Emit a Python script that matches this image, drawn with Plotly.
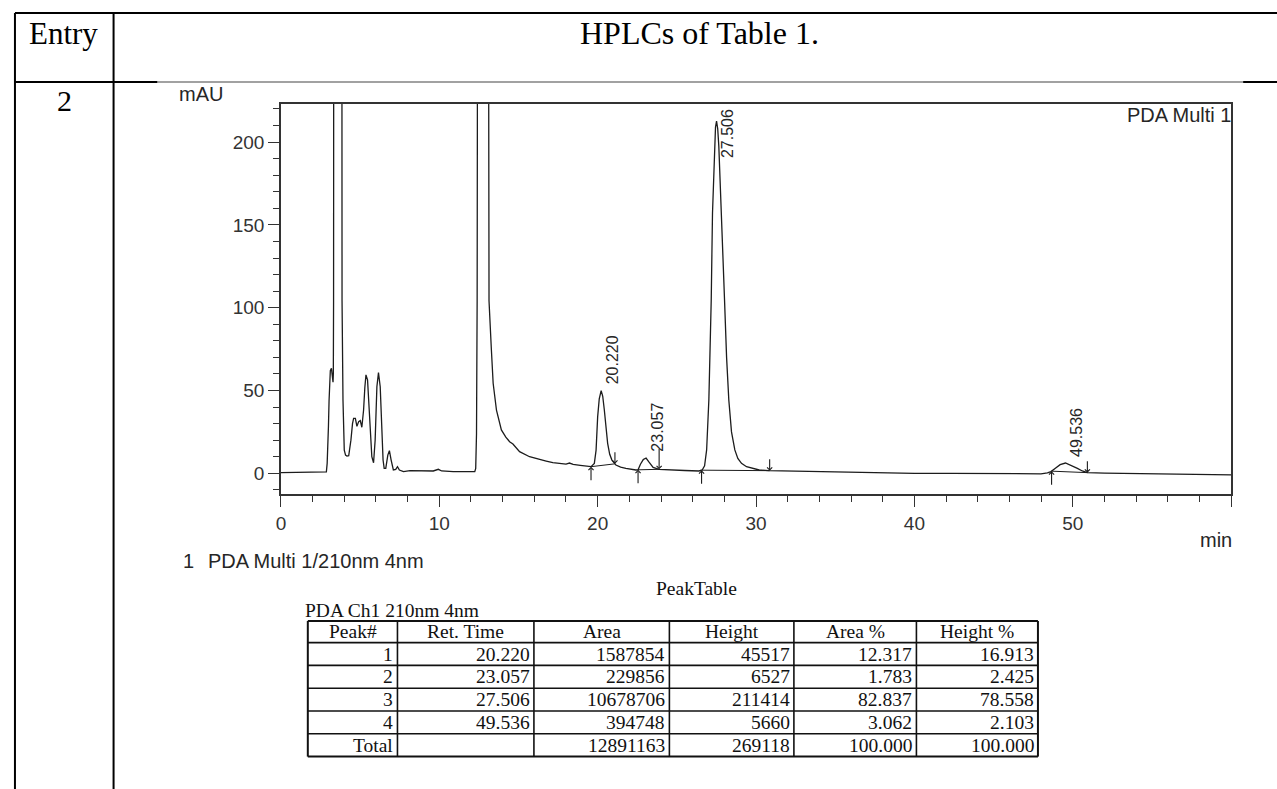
import numpy as np
import plotly.graph_objects as go

# ---- chromatogram trace (PDA Multi 1, 210 nm) ----
time_min = [
    0.00, 1.50, 2.70, 2.87, 2.92, 2.96, 3.00, 3.04, 3.09, 3.12, 3.19, 3.25, 3.29, 3.31,
    3.325, 3.335, 3.60, 3.85, 3.86, 3.92, 3.96, 4.00, 4.08, 4.17, 4.28, 4.36, 4.42, 4.52,
    4.59, 4.70, 4.80, 4.91, 5.01, 5.11, 5.22, 5.30, 5.37, 5.47, 5.53, 5.60, 5.74, 5.85,
    5.95, 6.06, 6.16, 6.27, 6.37, 6.45, 6.52, 6.62, 6.75, 6.85, 6.96, 7.10, 7.25, 7.36,
    7.48, 7.74, 8.15, 8.78, 9.62, 9.94, 10.15, 10.88, 12.14, 12.24, 12.30, 12.35, 12.39,
    12.415, 12.75, 13.07, 13.14, 13.29, 13.40, 13.61, 13.92, 14.20, 14.44, 14.65, 15.07,
    15.70, 16.20, 16.75, 17.17, 17.60, 18.00, 18.22, 18.45, 18.90, 19.30, 19.58, 19.79,
    19.90, 20.00, 20.10, 20.22, 20.32, 20.42, 20.52, 20.63, 20.76, 20.90, 21.15, 21.45,
    21.78, 22.10, 22.41, 22.55, 22.70, 22.88, 23.057, 23.22, 23.38, 23.50, 23.88, 24.50,
    25.50, 26.39, 26.60, 26.75, 26.88, 27.02, 27.10, 27.17, 27.25, 27.37, 27.44, 27.506,
    27.58, 27.65, 27.79, 27.90, 28.01, 28.14, 28.28, 28.45, 28.66, 28.85, 29.08, 29.40,
    29.75, 30.20, 30.80, 32.00, 33.94, 36.00, 38.13, 40.00, 42.33, 45.47, 47.99, 48.40,
    48.62, 48.90, 49.20, 49.536, 49.85, 50.29, 50.60, 50.92, 52.00, 54.00, 56.00, 58.00,
    60.00,
]
absorbance_mau = [
    0.4, 0.4, 0.4, 0.8, 6, 14, 28, 44, 56, 62, 63.4, 58, 55, 60,
    104, 300, 1800, 300, 104, 44, 25, 14, 11, 10.4, 10.6, 15, 20, 30,
    33.2, 33.2, 28.4, 31.2, 31.8, 27.8, 38.2, 52, 59.4, 56.4, 45, 28.2, 10, 6.4,
    20, 52.3, 60.8, 52.3, 20.1, 8, 3.0, 3.0, 11, 13.7, 8, 2.0, 2.4, 4.0,
    2.0, 1.0, 1.6, 1.4, 1.4, 2.4, 1.4, 1.0, 1.0, 1.0, 3, 24, 104,
    300, 2500, 300, 104, 74.5, 54.4, 38.2, 26.2, 21.8, 19.1, 17.7, 13.1,
    10.0, 8.6, 7.4, 6.4, 5.8, 5.6, 6.2, 5.4, 4.8, 4.3, 4.0, 6.0,
    14, 34.2, 45, 49.9, 46.5, 38.2, 27, 18.1, 11.5, 8.0, 5.0, 3.8,
    3.0, 2.4, 2.0, 2.1, 5.5, 8.3, 9.2, 7.0, 4.6, 3.6, 2.4, 2.0,
    1.7, 1.4, 2.0, 4.5, 14.1, 44.3, 75, 104.7, 157, 197.4, 209, 212.7,
    208, 197.4, 157, 130, 104.7, 70, 44.3, 25, 14.1, 9.0, 6.0, 4.0,
    3.0, 2.0, 1.6, 1.4, 1.0, 0.5, 0.1, 0.0, 0.0, -0.3, -0.3, 0.2,
    1.0, 3.0, 5.2, 6.2, 5.0, 3.0, 1.4, 0.4, 0.1, -0.2, -0.4, -0.7,
    -1.0,
]

# ---- integrated peaks ----
ret_times = [20.220, 23.057, 27.506, 49.536]
apex_mau = [49.9, 9.2, 212.7, 6.2]
peak_start = [19.58, 22.55, 26.56, 48.66]
peak_end = [21.09, 23.88, 30.86, 50.92]
end_arrow_px = [13, 22, 13, 13]

# ---- peak table ----
peak_ids = ["1", "2", "3", "4"]
areas = [1587854, 229856, 10678706, 394748]
heights = [45517, 6527, 211414, 5660]
area_pct = [12.317, 1.783, 82.837, 3.062]
height_pct = [16.913, 2.425, 78.558, 2.103]
total_area = 12891163
total_height = 269118
total_pct = 100.000
table_headers = ["Peak#", "Ret. Time", "Area", "Height", "Area %", "Height %"]

y_ticks = [0, 50, 100, 150, 200]
x_ticks = [0, 10, 20, 30, 40, 50, 60]
x_ticktext = ["0", "10", "20", "30", "40", "50", ""]

W, H = 1277, 789
X_RANGE = [0, 60]
Y_RANGE = [-12.5, 223]
PLOT_L, PLOT_R, PLOT_T, PLOT_B = 277, 1231, 104, 494

# peak table geometry (pixels)
TBL_LEFT, TBL_TOP = 304, 621
COL_W = [90, 137, 136, 125, 123, 122]
HEAD_H, ROW_H = 21.6, 22.8


def px(x):
    return x / W


def py(y):
    return 1 - y / H


SANS = "Liberation Sans"
SERIF = "Liberation Serif"
INK = "#262626"
TINK = "#111111"

fig = go.Figure()

fig.add_trace(go.Scatter(
    x=time_min, y=absorbance_mau, mode="lines",
    line=dict(color="#1c1c1c", width=1.3),
    hoverinfo="skip", showlegend=False,
))

# integration baselines drawn under each peak
bx, by = [], []
for s, e in zip(peak_start, peak_end):
    bx += [s, e, None]
    by += [float(np.interp(s, time_min, absorbance_mau)),
           float(np.interp(e, time_min, absorbance_mau)), None]
fig.add_trace(go.Scatter(
    x=bx, y=by, mode="lines", line=dict(color="#1c1c1c", width=1),
    hoverinfo="skip", showlegend=False,
))

axis_common = dict(
    showline=True, mirror=True, linecolor="#333", linewidth=1.5,
    ticks="outside", ticklen=11, tickwidth=1.4, tickcolor="#333",
    showgrid=False, zeroline=False,
    tickfont=dict(family=SANS, size=19, color="#333"),
)

fig.update_layout(
    width=W, height=H,
    margin=dict(l=0, r=0, t=0, b=0),
    paper_bgcolor="white", plot_bgcolor="white",
    xaxis=dict(
        domain=[px(PLOT_L), px(PLOT_R)], range=X_RANGE,
        tickmode="array", tickvals=x_ticks, ticktext=x_ticktext,
        minor=dict(tickmode="linear", tick0=0, dtick=2, ticks="outside",
                   ticklen=6, tickwidth=1.3, tickcolor="#333"),
        **axis_common,
    ),
    yaxis=dict(
        domain=[py(PLOT_B), py(PLOT_T)], range=Y_RANGE,
        tickmode="array", tickvals=y_ticks,
        minor=dict(tickmode="linear", tick0=0, dtick=10, ticks="outside",
                   ticklen=6, tickwidth=1.3, tickcolor="#333"),
        **axis_common,
    ),
)

ann = []
shapes = []

# retention-time labels above each apex
unit_px = (PLOT_B - PLOT_T) / (Y_RANGE[1] - Y_RANGE[0])
label_len_px = 54
for rt, ap in zip(ret_times, apex_mau):
    label = dict(x=rt, y=ap, xref="x", yref="y", text=f"{rt:.3f}",
                 textangle=-90, showarrow=False, xanchor="center",
                 yanchor="bottom", xshift=11, yshift=4,
                 font=dict(family=SANS, size=16, color=INK))
    if (Y_RANGE[1] - ap) * unit_px < label_len_px + 8:
        label.update(y=Y_RANGE[1], yanchor="top", yshift=-3)
    ann.append(label)

# peak start (up) / end (down) markers
for s, e, elen in zip(peak_start, peak_end, end_arrow_px):
    ys = float(np.interp(s, time_min, absorbance_mau))
    ye = float(np.interp(e, time_min, absorbance_mau))
    ann.append(dict(x=s, y=ys, xref="x", yref="y", ax=0, ay=15, text="",
                    showarrow=True, arrowhead=4, arrowsize=0.9, arrowwidth=1.1,
                    arrowcolor="#1c1c1c"))
    ann.append(dict(x=e, y=ye, xref="x", yref="y", ax=0, ay=-elen, text="",
                    showarrow=True, arrowhead=4, arrowsize=0.9, arrowwidth=1.1,
                    arrowcolor="#1c1c1c"))


def text_at(x, y, s, size, family, xanchor="left", color=INK):
    return dict(x=px(x), y=py(y), xref="paper", yref="paper", text=s,
                showarrow=False, xanchor=xanchor, yanchor="middle",
                borderpad=0,
                font=dict(family=family, size=size, color=color))


def rule(x0, y0, x1, y1, width=2, color="black"):
    return dict(type="line", xref="paper", yref="paper",
                x0=px(x0), y0=py(y0), x1=px(x1), y1=py(y1),
                line=dict(color=color, width=width), layer="above")


ann += [
    text_at(1232, 115, "PDA Multi 1", 20, SANS, "right"),
    text_at(174, 94, "mAU", 20, SANS, "left"),
    text_at(1233, 540, "min", 20, SANS, "right"),
    text_at(178, 561, "1", 20, SANS, "left"),
    text_at(203, 561, "PDA Multi 1/210nm 4nm", 20, SANS, "left"),
    text_at(694, 588, "PeakTable", 19.5, SERIF, "center", TINK),
    text_at(300, 610, "PDA Ch1 210nm 4nm", 19.5, SERIF, "left", TINK),
    text_at(58.5, 33, "Entry", 31, SERIF, "center", "black"),
    text_at(697, 33, "HPLCs of Table 1.", 32, SERIF, "center", "black"),
    text_at(60, 101, "2", 30, SERIF, "center", "black"),
]

# peak table: grid and cell text
rows = [table_headers]
for i in range(len(peak_ids)):
    rows.append([peak_ids[i], f"{ret_times[i]:.3f}", f"{areas[i]:d}",
                 f"{heights[i]:d}", f"{area_pct[i]:.3f}", f"{height_pct[i]:.3f}"])
rows.append(["Total", "", f"{total_area:d}", f"{total_height:d}",
             f"{total_pct:.3f}", f"{total_pct:.3f}"])

col_edges = [TBL_LEFT]
for w in COL_W:
    col_edges.append(col_edges[-1] + w)
row_edges = [TBL_TOP, TBL_TOP + HEAD_H]
for _ in rows[1:]:
    row_edges.append(row_edges[-1] + ROW_H)

for k, yv in enumerate(row_edges):
    outer = k in (0, len(row_edges) - 1)
    shapes.append(rule(col_edges[0], yv, col_edges[-1], yv, width=2 if outer else 1.6,
                       color=TINK))
for k, xv in enumerate(col_edges):
    outer = k in (0, len(col_edges) - 1)
    shapes.append(rule(xv, row_edges[0], xv, row_edges[-1], width=2 if outer else 1.6,
                       color=TINK))

for r, row in enumerate(rows):
    yc = (row_edges[r] + row_edges[r + 1]) / 2
    for c, val in enumerate(row):
        if not val:
            continue
        if r == 0:
            xc = (col_edges[c] + col_edges[c + 1]) / 2
            ann.append(text_at(xc, yc, val, 19.5, SERIF, "center", TINK))
        else:
            ann.append(text_at(col_edges[c + 1] - 3, yc, val, 19.5, SERIF, "right", TINK))

fig.update_layout(annotations=ann)

# ruling of the surrounding document table
shapes += [
    rule(10, 13, W, 13),
    rule(10, 13, 10, H),
    rule(109, 13, 109, H),
    rule(10, 82, 153, 82),
    rule(153, 82, 1243, 82, width=1.2, color="#444"),
    rule(1243, 82, W, 82),
]
fig.update_layout(shapes=shapes)

fig.write_html("out.html")
